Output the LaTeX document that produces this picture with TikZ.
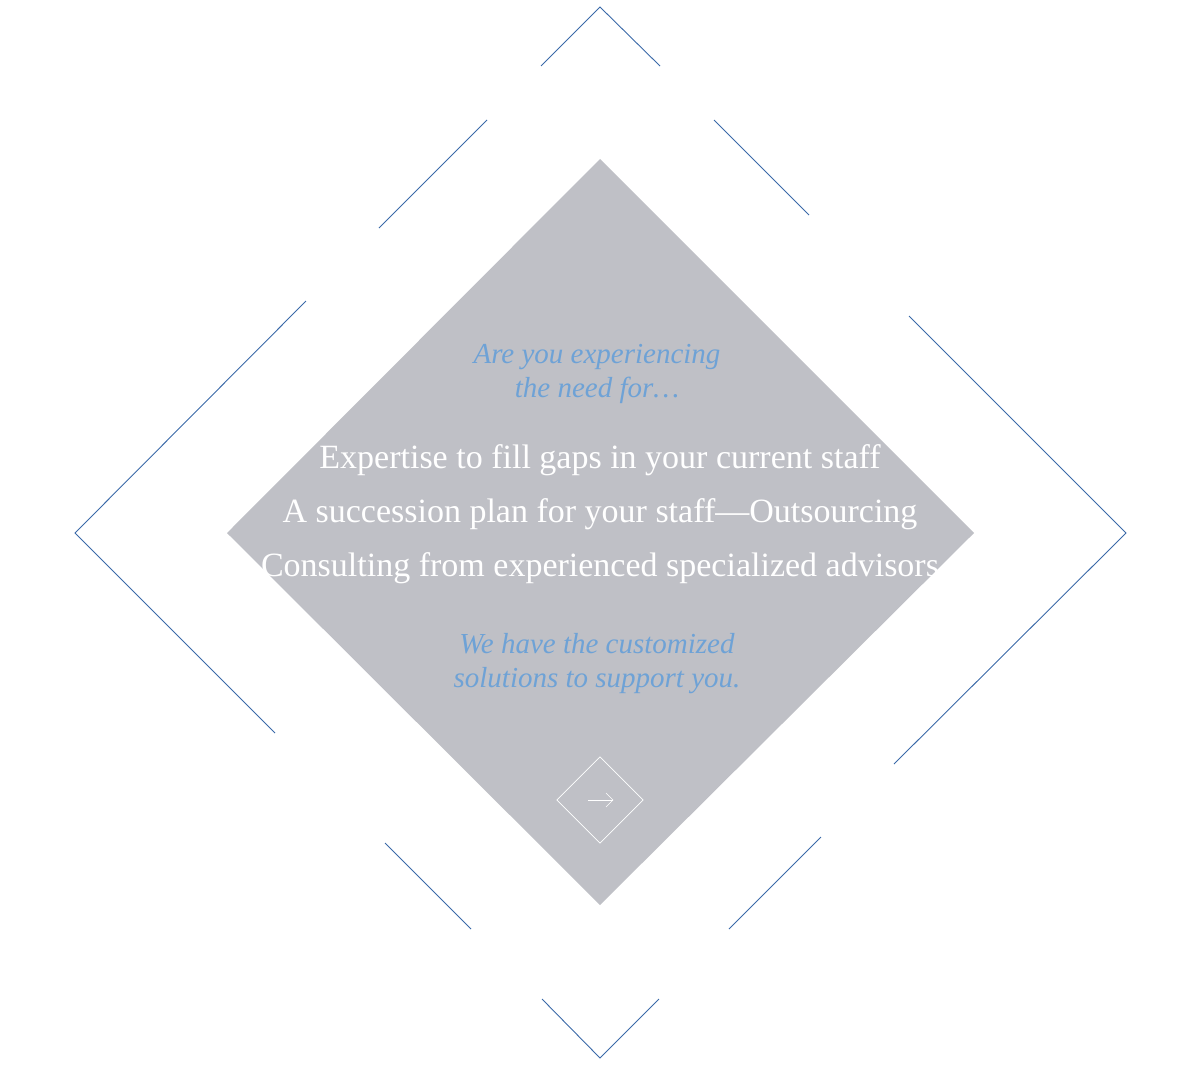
\documentclass[tikz,border=0pt]{standalone}
\usepackage{fontspec}
\setmainfont{Liberation Serif}
\begin{document}
\begin{tikzpicture}[x=1pt,y=-1pt,
  frame/.style={draw=blue!45!black!80!cyan, line width=0.8pt},
  blue text/.style={text=accent, font=\itshape\fontsize{29}{34}\selectfont, align=center},
  white text/.style={text=white, font=\fontsize{34}{54}\selectfont, align=center}]
\definecolor{accent}{HTML}{6EA2D6}
\definecolor{diam}{HTML}{BFC0C6}
\definecolor{framec}{HTML}{3A69A8}
\useasboundingbox (0,0) rectangle (1201,1066);
\tikzset{frame/.style={draw=framec, line width=0.9pt}}
\coordinate (T) at (600,7); \coordinate (L) at (75,533);
\coordinate (R) at (1126,533); \coordinate (B) at (600,1058);
\draw[frame] (541,66) -- (T) -- (660,66);
\draw[frame] (487,120) -- (379,228);
\draw[frame] (306,301) -- (L) -- (275,733);
\draw[frame] (385,843) -- (471,929);
\draw[frame] (542,999) -- (B) -- (659,999);
\draw[frame] (729,929) -- (821,837);
\draw[frame] (894,764) -- (R) -- (909,316);
\draw[frame] (809,215) -- (714,120);
\fill[diam] (600,159) -- (974,533) -- (600,905) -- (227,533) -- cycle;
\node[blue text] (q) at (597,374) {Are you experiencing\\the need for…};
\node[white text] (w) at (600,514) {Expertise to fill gaps in your current staff\\A succession plan for your staff—Outsourcing\\Consulting from experienced specialized advisors};
\node[blue text] (a) at (597,664) {We have the customized\\solutions to support you.};
\node[draw=white, line width=0.6pt, minimum size=61pt, rotate=45] (btn) at (600,800) {};
\coordinate (a1) at (588,800); \coordinate (a2) at (613,800);
\draw[white, line width=0.6pt] (a1) -- (a2);
\draw[white, line width=0.6pt] (606,793) -- (a2) -- (606,807);
\end{tikzpicture}
\end{document}
